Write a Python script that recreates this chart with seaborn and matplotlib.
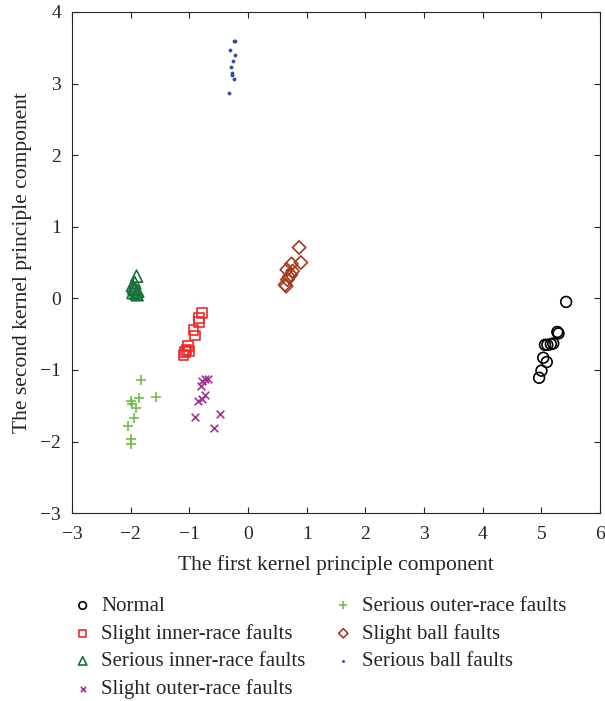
import matplotlib
matplotlib.use("Agg")
import matplotlib.pyplot as plt
import seaborn as sns

# Datos
normal_x = [5.42, 5.29, 5.27, 5.20, 5.16, 5.10, 5.06, 5.03, 5.09, 5.00, 4.96]
normal_y = [-0.05, -0.49, -0.47, -0.63, -0.64, -0.65, -0.65, -0.83, -0.89, -1.01, -1.11]

slight_inner_x = [-0.78, -0.83, -0.83, -0.93, -0.91, -1.03, -1.05, -1.08, -1.10, -1.01]
slight_inner_y = [-0.21, -0.28, -0.33, -0.44, -0.52, -0.67, -0.72, -0.75, -0.79, -0.73]

serious_inner_x = [-1.90, -1.93, -1.97, -1.95, -1.92, -1.88, -1.96, -1.91, -1.89, -1.94]
serious_inner_y = [0.31, 0.22, 0.18, 0.15, 0.13, 0.10, 0.08, 0.07, 0.05, 0.12]

slight_outer_x = [-0.68, -0.73, -0.78, -0.80, -0.74, -0.79, -0.85, -0.91, -0.47, -0.58]
slight_outer_y = [-1.12, -1.13, -1.16, -1.22, -1.35, -1.40, -1.44, -1.66, -1.61, -1.81]

serious_outer_x = [-1.83, -1.57, -1.85, -2.00, -1.97, -1.91, -1.94, -2.04, -2.00, -2.00]
serious_outer_y = [-1.14, -1.38, -1.39, -1.43, -1.48, -1.53, -1.67, -1.78, -1.96, -2.03]

slight_ball_x = [0.87, 0.90, 0.74, 0.66, 0.76, 0.73, 0.67, 0.65, 0.63, 0.70]
slight_ball_y = [0.71, 0.50, 0.48, 0.40, 0.38, 0.33, 0.26, 0.17, 0.19, 0.30]

serious_ball_x = [-0.24, -0.22, -0.31, -0.22, -0.25, -0.29, -0.27, -0.27, -0.24, -0.33]
serious_ball_y = [3.59, 3.59, 3.47, 3.40, 3.31, 3.23, 3.15, 3.12, 3.07, 2.87]

sns.set_style("ticks")
plt.rcParams["font.family"] = ["Liberation Serif", "DejaVu Serif"]
plt.rcParams["xtick.direction"] = "in"
plt.rcParams["ytick.direction"] = "in"

fig = plt.figure(figsize=(6.05, 7.01), dpi=100)
ax = fig.add_axes([0.119, 0.268, 0.873, 0.715])

# (x, y, etiqueta, marcador, color, hueco, tamaño)
grupos = [
    (normal_x, normal_y, "Normal", "o", "black", True, 60),
    (slight_inner_x, slight_inner_y, "Slight inner-race faults", "s", "#f02828", True, 50),
    (serious_inner_x, serious_inner_y, "Serious inner-race faults", "^", "#17733a", True, 75),
    (slight_outer_x, slight_outer_y, "Slight outer-race faults", "x", "#a4309a", False, 30),
    (serious_outer_x, serious_outer_y, "Serious outer-race faults", "+", "#6cbf45", False, 60),
    (slight_ball_x, slight_ball_y, "Slight ball faults", "D", "#a33a1e", True, 45),
    (serious_ball_x, serious_ball_y, "Serious ball faults", "o", "#2a4ba8", False, 5),
]

for gx, gy, lab, mk, c, hueco, s in grupos:
    if hueco:
        sns.scatterplot(x=gx, y=gy, ax=ax, marker=mk, s=s, color=c,
                        facecolor="none", edgecolor=c, linewidth=1.2, label=lab)
    elif mk == "o":
        sns.scatterplot(x=gx, y=gy, ax=ax, marker=mk, s=s, color=c,
                        edgecolor=c, linewidth=0.5, label=lab)
    else:
        sns.scatterplot(x=gx, y=gy, ax=ax, marker=mk, s=s, color=c,
                        linewidth=1.2, label=lab)

ax.set_xlim(-3, 6)
ax.set_ylim(-3, 4)
ax.set_xticks(range(-3, 7))
ax.set_yticks(range(-3, 5))
ax.set_xticklabels(["\u22123", "\u22122", "\u22121", "0", "1", "2", "3", "4", "5", "6"])
ax.set_yticklabels(["\u22123", "\u22122", "\u22121", "0", "1", "2", "3", "4"])
ax.tick_params(labelsize=14, top=True, right=True, length=4, width=0.8)
ax.tick_params(axis="x", pad=9)
ax.tick_params(axis="y", pad=8)
for sp in ax.spines.values():
    sp.set_linewidth(0.8)
ax.set_xlabel("The first kernel principle component", fontsize=15.5, labelpad=9)
ax.set_ylabel("The second kernel principle component", fontsize=15.5, labelpad=6)

handles, labels = ax.get_legend_handles_labels()
ax.get_legend().remove()
fig.legend(handles, labels, ncol=2, loc="upper left", bbox_to_anchor=(0.085, 0.176),
           frameon=False, fontsize=15, markerscale=0.7, handletextpad=0.3,
           columnspacing=1.2, labelspacing=0.38, handlelength=1.2)

fig.savefig("out.png", dpi=100)
